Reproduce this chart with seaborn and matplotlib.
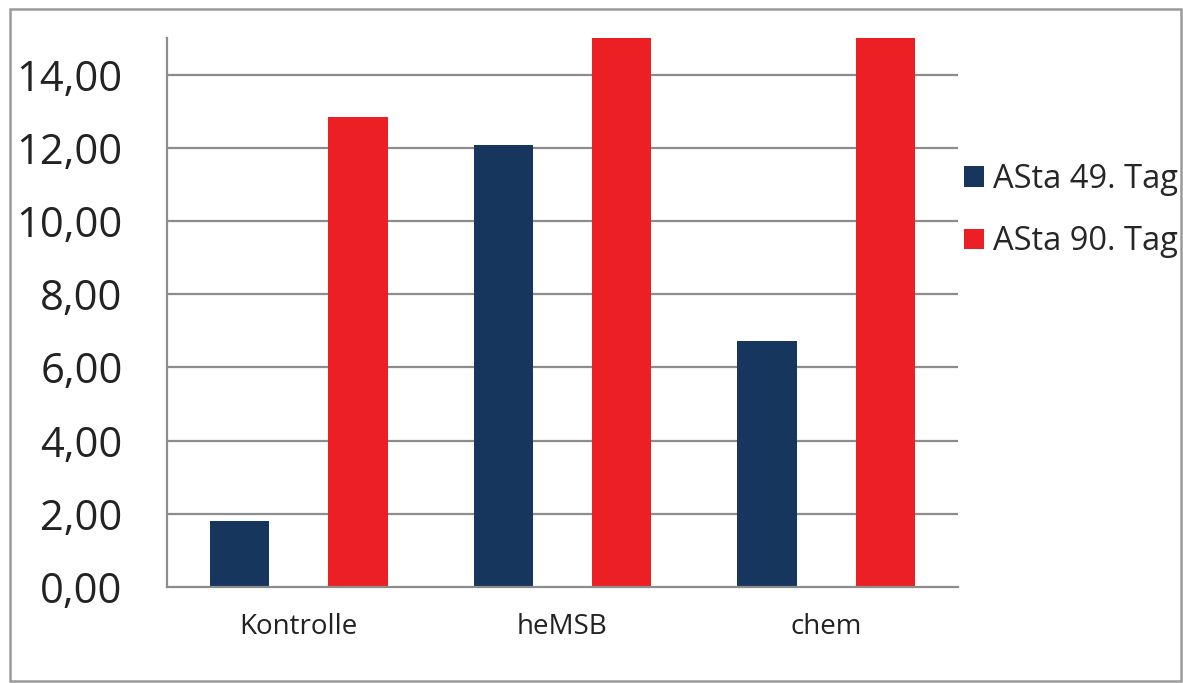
import matplotlib
matplotlib.use("Agg")
import matplotlib.pyplot as plt
from matplotlib.patches import Rectangle, Patch
from matplotlib.ticker import FixedLocator, FuncFormatter
import pandas as pd
import seaborn as sns

# Data
categories = ["Kontrolle", "heMSB", "chem"]
series_names = ["ASta 49. Tag", "ASta 90. Tag"]
asta_49 = [1.80, 12.08, 6.72]
asta_90 = [12.85, 15.00, 15.00]
y_ticks = [0, 2, 4, 6, 8, 10, 12, 14]

colors = ["#17365E", "#EC2024"]
grid_color = "#8C8C8C"
font = ["Open Sans", "DejaVu Sans"]

df = pd.DataFrame({
    "Gruppe": categories * 2,
    "Serie": [series_names[0]] * 3 + [series_names[1]] * 3,
    "Wert": asta_49 + asta_90,
})

sns.set_theme(style="white")
plt.rcParams["font.family"] = font

fig = plt.figure(figsize=(11.83, 6.83), dpi=100)
ax = fig.add_axes([167 / 1183, 1 - 587 / 683, (958 - 167) / 1183, (587 - 38) / 683])

sns.barplot(data=df, x="Gruppe", y="Wert", hue="Serie", order=categories,
            hue_order=series_names, palette=colors, width=0.9, gap=0.5,
            saturation=1, edgecolor="none", linewidth=0, ax=ax, legend=False,
            zorder=3)

ax.set_xlim(-0.5, 2.5)
ax.set_ylim(0, 15)
ax.set_xlabel("")
ax.set_ylabel("")

# y axis: comma decimals, outward ticks that run into the gridlines
ax.yaxis.set_major_locator(FixedLocator(y_ticks))
ax.yaxis.set_major_formatter(FuncFormatter(lambda v, p: f"{v:.2f}".replace(".", ",")))
ax.tick_params(axis="y", length=14, width=1.6, color=grid_color, pad=18,
               labelsize=30, labelcolor="#222222")
for v in y_ticks[1:]:
    ax.axhline(v, color=grid_color, linewidth=1.6, zorder=1)

# x axis: category labels centred, tick marks on the group boundaries
ax.set_xticks(range(len(categories)))
ax.set_xticklabels(categories)
ax.tick_params(axis="x", which="major", length=0, pad=19, labelsize=20,
               labelcolor="#222222")
ax.xaxis.set_minor_locator(FixedLocator([-0.5, 0.5, 1.5, 2.5]))
ax.tick_params(axis="x", which="minor", length=9, width=1.6, color=grid_color,
               direction="out")

for side in ("top", "right"):
    ax.spines[side].set_visible(False)
for side in ("left", "bottom"):
    ax.spines[side].set_color(grid_color)
    ax.spines[side].set_linewidth(1.6)
ax.spines["bottom"].set_zorder(4)

handles = [Patch(facecolor=c, edgecolor="none") for c in colors]
fig.legend(handles, series_names, loc="upper left",
           bbox_to_anchor=(951 / 1183, 1 - 150 / 683), frameon=False,
           fontsize=23.5, handlelength=0.6, handleheight=0.6,
           handletextpad=0.3, labelspacing=0.9, borderaxespad=0)

# Outer chart frame
fig.patches.append(Rectangle((10 / 1183, 2 / 683), 1171 / 1183, (674 - 2) / 683,
                             transform=fig.transFigure, fill=False,
                             edgecolor="#9A9A9A", linewidth=1.8))

fig.savefig("out.png", dpi=100)
